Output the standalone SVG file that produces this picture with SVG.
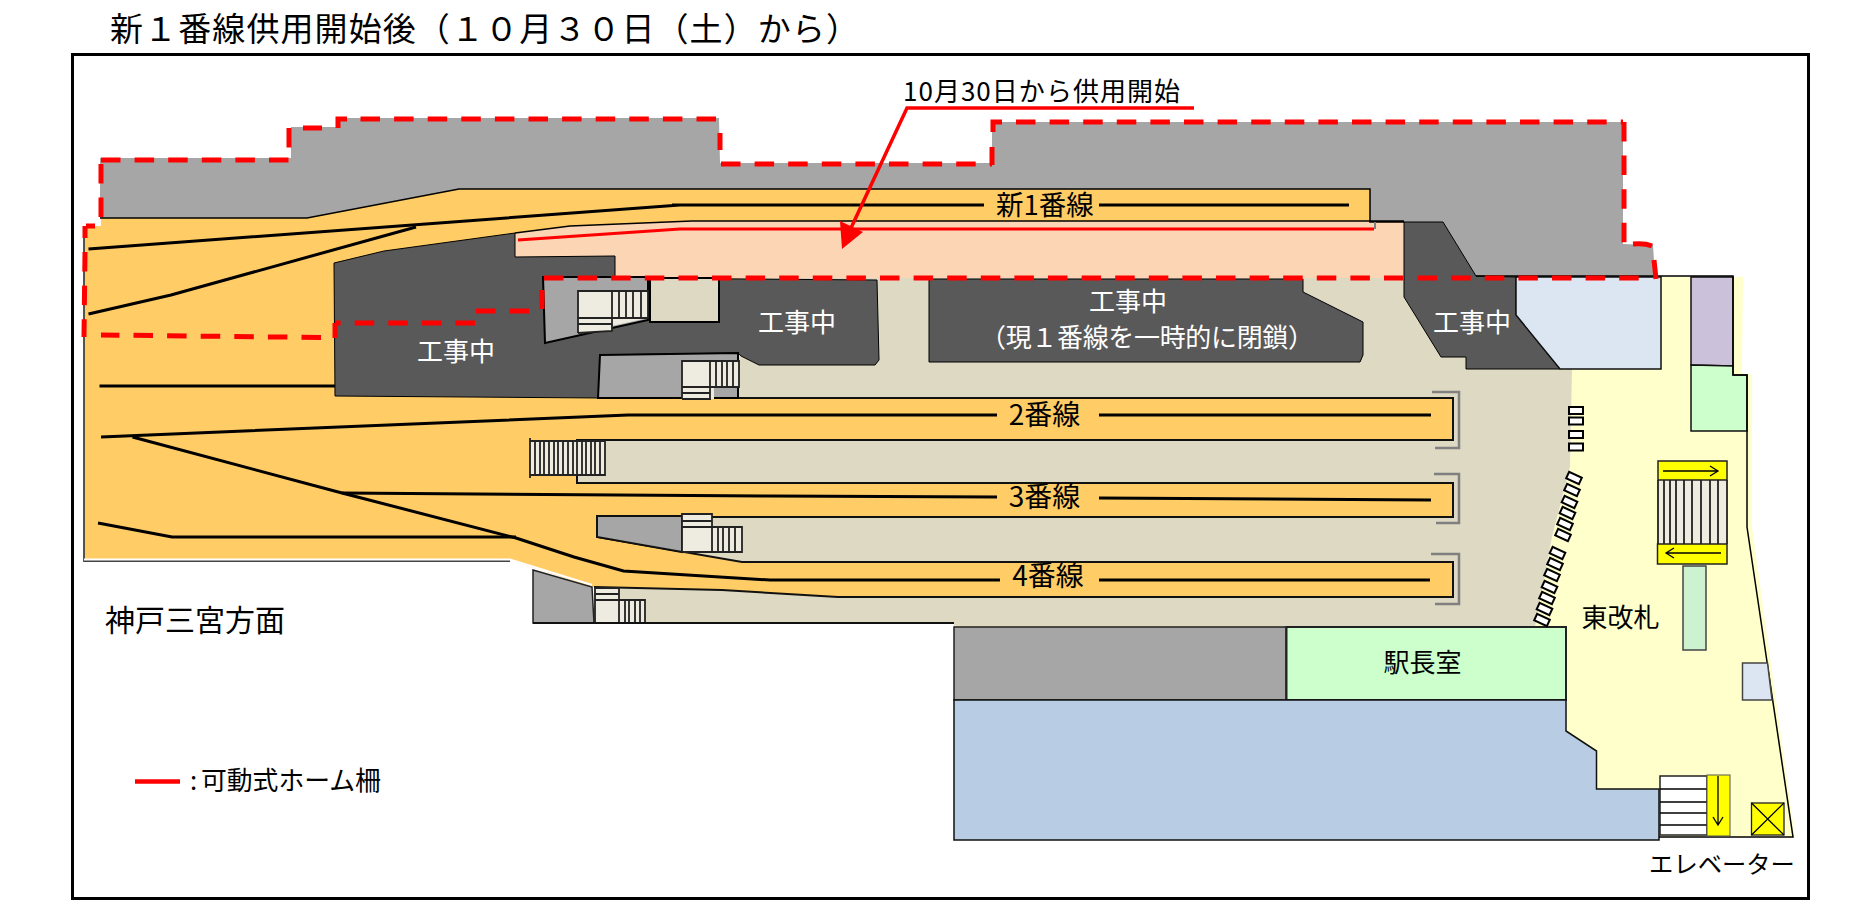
<svg xmlns="http://www.w3.org/2000/svg" width="1850" height="920" viewBox="0 0 1850 920">
<style>
text{font-family:"Noto Sans CJK JP","Liberation Sans",sans-serif;fill:#000}
.w{fill:#fff}
.k{stroke:#000;stroke-width:1.5;fill:none}
.e{stroke:#111;stroke-width:2;fill:none}
.rail{stroke:#000;stroke-width:3;fill:none}
.red{stroke:#f00;stroke-width:3;fill:none}
.dash{stroke:#f00;stroke-width:5;fill:none;stroke-dasharray:19.5 14.1}
.br{stroke:#808080;stroke-width:2.5;fill:none}
.st{fill:#eeece1}
.ln{stroke:#222;stroke-width:1.8;fill:none}
.gate{fill:#fff;stroke:#000;stroke-width:2}
.thin{stroke:#000;stroke-width:1.3;fill:none}
</style>
<defs>
<rect id="g" class="gate" x="-7" y="-3.5" width="14" height="7"/>
</defs>
<rect width="1850" height="920" fill="#fff"/>
<text x="110" y="41" font-size="33" textLength="749" lengthAdjust="spacing">新１番線供用開始後（１０月３０日（土）から）</text>
<rect x="72.5" y="54.5" width="1736" height="844" fill="none" stroke="#000" stroke-width="3"/>

<g id="base">
<path fill="#a6a6a6" d="M100,158H291V127H337V118H719L720,163H992V122H1623V244L1653,245L1655,277H1476L1443,222H1370V189H459L307,218H100Z"/>
<path fill="#ffcc66" d="M84,226H101V218H307L459,189H1370V230H860V597H838L722,590L594,587H592L510,560H84Z"/>
<path fill="#ffffcc" d="M1572,370L1660,277H1743L1742,373L1752,375V527L1795,837H1566V627H1535L1552,537L1570,467Z"/>
<path fill="#fcd5b5" d="M515,233L570,226L692,221H1404V278H615V256L515,257Z"/>
<path fill="#ddd9c3" d="M739,278H1516L1572,370L1570,467L1552,537L1535,627H954V623H594V587L722,590L860,598V562H742L597,537V516H860V483H577V439H860V399H739Z"/>
<path fill="#ffcc66" d="M700,399H1453V440H700Z M850,483H1453V517H850Z M850,562H1453V597H850Z"/>
<path class="e" d="M600,398H1453V440H577V483H1453V517H597V537L742,562H1453V597H838L722,590L594,587"/>
<path class="k" d="M100,218H307L459,189H1370V222H1404M515,233L570,226L692,221H1404"/>
<path stroke="#444" stroke-width="1.8" fill="none" d="M84,226V561H510"/>
<path stroke="#fff" stroke-width="2" fill="none" d="M84,559.5H510L592,585"/>
</g>

<g id="construction">
<path fill="#595959" stroke="#000" d="M334,263L384,251L515,233V257L615,256V278L877,280L879,360L875,365H759L741,356L738,353L600,355V398L335,396Z"/>
<path fill="#595959" stroke="#000" d="M929,279H1303V292L1363,322V355L1360,362H929Z"/>
<path fill="#595959" stroke="#000" d="M1404,222H1443L1476,276L1516,277V315L1560,369H1466V357H1441L1404,297Z"/>
<text class="w" x="456" y="361" font-size="26" text-anchor="middle">工事中</text>
<text class="w" x="797" y="332" font-size="26" text-anchor="middle">工事中</text>
<text class="w" x="1128" y="311" font-size="26" text-anchor="middle">工事中</text>
<text class="w" x="1147" y="347" font-size="26" text-anchor="middle" textLength="334" lengthAdjust="spacing">（現１番線を一時的に閉鎖）</text>
<text class="w" x="1472" y="332" font-size="26" text-anchor="middle">工事中</text>
</g>

<g id="stairs-west">
<path fill="#a6a6a6" stroke="#000" stroke-width="2" d="M543,277H648V320L545,343Z"/>
<path fill="#ddd9c3" stroke="#000" stroke-width="2" d="M650,278H719V322H650Z"/>
<path class="st" d="M578,291H648V318L612,326V331L578,333Z"/>
<path class="ln" d="M578,333V291H648V318H578M578,324H612M578,333L612,331V291M619,291V318M626,291V318M633,291V318M641,291V318"/>
<path fill="#a6a6a6" stroke="#000" stroke-width="2" d="M600,355L738,353V398H598Z"/>
<path class="st" d="M682,361H739V387H714V399H682Z"/>
<path class="ln" d="M682,399V361H739V387H682M682,393H710M682,399H710V361M716,361V387M722,361V387M727,361V387M733,361V387"/>
<path fill="#a6a6a6" stroke="#111" stroke-width="2" d="M597,516H682V552L597,537Z"/>
<path class="st" d="M682,514H712V527H742V552H682Z"/>
<path class="ln" d="M682,552V514H712V527M682,521H712M682,527H742V552H682M712,527V552M718,527V552M723,527V552M729,527V552M735,527V552"/>
<path fill="#a6a6a6" stroke="#222" stroke-width="1.5" d="M533,570L592,587L594,623H533Z"/>
<path class="st" d="M595,588H619V600H645V623H595Z"/>
<path class="ln" d="M595,623V588H619V600M595,594H619M595,600H645V623H595M619,600V623M625,600V623M629,600V623M635,600V623M640,600V623"/>
<path class="st" d="M530,441H605V475H530Z"/>
<path class="ln" d="M530,441H605V475H530M530,438V478M535,441V475M540,441V475M544,441V475M549,441V475M554,441V475M558,441V475M563,441V475M568,441V475M573,441V475M577,441V475M582,441V475M586,441V475M591,441V475M595,441V475M600,441V475"/>
<path stroke="#111" stroke-width="2" d="M533,623H954" fill="none"/>
</g>

<g id="rails">
<path class="rail" d="M88.5,249L680,205L672,205H984M1099,205H1349"/>
<path class="rail" d="M88.5,314L171,295L416,227"/>
<path class="rail" d="M99.5,386H335"/>
<path class="rail" d="M101,437L628,415H997M1099,415H1431"/>
<path class="rail" d="M342,493L770,496L997,497M1099,498L1431,500"/>
<path class="rail" d="M132.5,437L342,493L516,538L574,557L623.5,571L770,580H1000M1099,580H1430"/>
<path class="rail" d="M98,523L172,537H516"/>
<path class="red" d="M518,240L680,229L688,229H1374"/>
<path stroke="#808080" stroke-width="2" d="M1375,222V229"/>
<path class="br" d="M1432,392H1459V448H1435M1434,474H1459V523H1436M1431,554H1459V604H1435"/>
</g>

<g id="rooms">
<path fill="#a6a6a6" stroke="#222" stroke-width="1.5" d="M954,627H1286V700H954Z"/>
<path fill="#ccffcc" stroke="#222" stroke-width="2" d="M1286.5,627H1566V700H1286.5Z"/>
<path fill="#b8cce4" stroke="#111" stroke-width="1.5" d="M954,700H1566V731L1596.5,751V789H1659V840H954Z"/>
<path fill="#dce6f2" stroke="#111" stroke-width="1.5" d="M1516,277H1661V369H1560L1516,315Z"/>
<path fill="#ccc1da" stroke="#111" stroke-width="1.5" d="M1691,277H1733V366L1691,365Z"/>
<path fill="#ccffcc" stroke="#111" stroke-width="1.5" d="M1691,365L1733,366V375H1747V431H1691Z"/>
<path class="k" d="M1476,276H1733V375H1747V527L1793,837H1659"/>
<path fill="#ccf2d0" stroke="#444" stroke-width="1.5" d="M1683,566H1706V650H1683Z"/>
<path fill="#dce6f2" stroke="#444" stroke-width="1.5" d="M1742.5,663H1767.5L1772,700H1742.5Z"/>
<text x="1422.5" y="672" font-size="26" text-anchor="middle">駅長室</text>
<text x="1620.5" y="627" font-size="26" text-anchor="middle">東改札</text>
</g>

<g id="gates">
<use href="#g" x="1576" y="410.5"/><use href="#g" x="1576" y="421"/><use href="#g" x="1576" y="434.5"/><use href="#g" x="1576" y="447"/>
<use href="#g" transform="translate(1574,478) rotate(25)"/><use href="#g" transform="translate(1572,490) rotate(25)"/><use href="#g" transform="translate(1569.5,502) rotate(25)"/><use href="#g" transform="translate(1567.5,513) rotate(25)"/><use href="#g" transform="translate(1565,524) rotate(25)"/><use href="#g" transform="translate(1563,535) rotate(25)"/>
<use href="#g" transform="translate(1557.5,553) rotate(25)"/><use href="#g" transform="translate(1555,564) rotate(25)"/><use href="#g" transform="translate(1552,575) rotate(25)"/><use href="#g" transform="translate(1549.5,587) rotate(25)"/><use href="#g" transform="translate(1547,598) rotate(25)"/><use href="#g" transform="translate(1544.5,609) rotate(25)"/><use href="#g" transform="translate(1542,620) rotate(25)"/>
</g>

<g id="stairs-east">
<rect x="1658" y="480" width="69" height="64" fill="#eeece1"/>
<path class="ln" d="M1658,480V544M1664,480V544M1670,480V544M1676,480V544M1684,480V544M1692,480V544M1701,480V544M1710,480V544M1718,480V544M1727,480V544"/>
<rect x="1658" y="461" width="69" height="19" fill="#ff0" stroke="#222" stroke-width="1.5"/>
<path class="thin" d="M1663,471H1718M1710,466L1718,471L1710,476"/>
<rect x="1657.5" y="544" width="69.5" height="20" fill="#ff0" stroke="#222" stroke-width="1.5"/>
<path class="thin" d="M1721,553H1666M1674,548L1666,553L1674,558"/>
<rect x="1660" y="776" width="47" height="59" fill="#fff" stroke="#222" stroke-width="1.5"/>
<path class="thin" d="M1660,789H1707M1660,802H1707M1660,813H1707M1660,825H1707"/>
<rect x="1707" y="775" width="23" height="61" fill="#ff0" stroke="#555" stroke-width="1"/>
<path class="thin" d="M1718,776V825M1713,817L1718,825L1723,817"/>
</g>

<g id="elevator">
<rect x="1751.5" y="803" width="32.5" height="32" fill="#ff0" stroke="#222" stroke-width="1.3"/>
<path class="thin" d="M1751.5,803L1784,835M1784,803L1751.5,835"/>
<text x="1722" y="873" font-size="24.3" text-anchor="middle">エレベーター</text>
</g>

<g id="dashed-boundary">
<path class="dash" d="M101,217V163M101,160H289M289,128V149M303,128H322M338,128V119H347M360.5,119H719M720,133V150M721,164H992M992,165V147M993,132V122H1002M1016,122H1623M1624,122V245M1654,260L1656,279M544,278H1642M542,309V290M476,311H530M475,323H335M335,323V338M321,337.5L101,335M86,226H95M85,226V238M85,252L84,337"/>
<path stroke="#f00" stroke-width="5" fill="none" d="M1633,244Q1645,243 1652,246"/>
</g>

<g id="callout">
<path stroke="#f00" stroke-width="3.5" fill="none" d="M1194,108H907L851,228"/>
<path fill="#f00" d="M842,249L840,221L863,232Z"/>
<text x="903" y="101" font-size="26" textLength="277" lengthAdjust="spacing">10月30日から供用開始</text>
</g>

<g id="labels">
<text x="1045" y="215" font-size="27.5" text-anchor="middle">新1番線</text>
<text x="1044.5" y="425" font-size="28" text-anchor="middle">2番線</text>
<text x="1044.5" y="507" font-size="28" text-anchor="middle">3番線</text>
<text x="1048" y="586" font-size="28" text-anchor="middle">4番線</text>
<text x="105" y="631" font-size="30">神戸三宮方面</text>
<path stroke="#f00" stroke-width="4.5" d="M135,781.5H180"/>
<text x="190" y="790" font-size="25.8">:</text>
<text x="201" y="790" font-size="25.8">可動式ホーム柵</text>
</g>
</svg>
